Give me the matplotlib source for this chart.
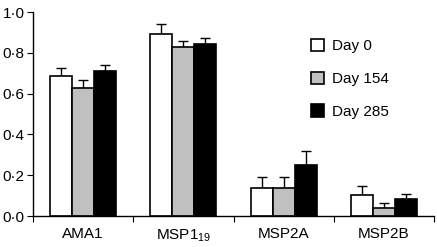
import matplotlib
matplotlib.use("Agg")
import matplotlib.pyplot as plt
import numpy as np

plt.rcParams['font.family'] = ['Liberation Sans', 'DejaVu Sans']
plt.rcParams['mathtext.fontset'] = 'custom'
plt.rcParams['mathtext.rm'] = 'Liberation Sans'
plt.rcParams['mathtext.it'] = 'Liberation Sans'

categories = ["AMA1", "MSP1$_{\\mathrm{19}}$", "MSP2A", "MSP2B"]
series = ["Day 0", "Day 154", "Day 285"]
day0 = [0.686, 0.892, 0.137, 0.103]
day0_err = [0.039, 0.049, 0.054, 0.044]
day154 = [0.627, 0.828, 0.137, 0.040]
day154_err = [0.040, 0.030, 0.053, 0.024]
day285 = [0.711, 0.843, 0.250, 0.083]
day285_err = [0.029, 0.030, 0.069, 0.025]
yticks = [0.0, 0.2, 0.4, 0.6, 0.8, 1.0]
ytick_labels = ["0·0", "0·2", "0·4", "0·6", "0·8", "1·0"]

colors = ["white", "#c0c0c0", "black"]

fig = plt.figure(figsize=(4.37, 2.47), dpi=100)
ax = fig.add_axes([33/437, 1-216/247, (434-33)/437, (216-12)/247])

x = np.arange(len(categories)) + 0.5
w = 0.22
vals = [day0, day154, day285]
errs = [day0_err, day154_err, day285_err]
for i, (v, e, c, s) in enumerate(zip(vals, errs, colors, series)):
    pos = x + (i - 1) * w
    ax.bar(pos, v, width=w, color=c, edgecolor="black", linewidth=1.2, label=s, zorder=2)
    ax.errorbar(pos, v, yerr=[np.zeros(len(v)), e], fmt="none", ecolor="black",
                elinewidth=1.0, capsize=3.5, capthick=1.0, zorder=1)

ax.set_xlim(0, 4)
ax.set_ylim(0, 1.0)
ax.set_yticks(yticks)
ax.set_yticklabels(ytick_labels, fontsize=11)
ax.set_xticks([0, 1, 2, 3, 4])
ax.set_xticklabels([])
ax.set_xticks(x, minor=True)
ax.set_xticklabels(categories, minor=True, fontsize=11)
ax.tick_params(axis="x", which="minor", length=0, pad=8)
ax.tick_params(axis="x", which="major", length=4, direction="out")
ax.tick_params(axis="y", length=4, direction="out", pad=2)
for sp in ["top", "right"]:
    ax.spines[sp].set_visible(False)
ax.spines["left"].set_linewidth(1.0)
ax.spines["bottom"].set_linewidth(1.0)

leg = ax.legend(loc="upper left", bbox_to_anchor=(311/437, 1-39/247),
                bbox_transform=fig.transFigure, frameon=False, fontsize=11,
                handlelength=0.85, handleheight=0.85, handletextpad=0.5,
                labelspacing=1.2, borderpad=0, borderaxespad=0)

fig.savefig("out.png", dpi=100)
